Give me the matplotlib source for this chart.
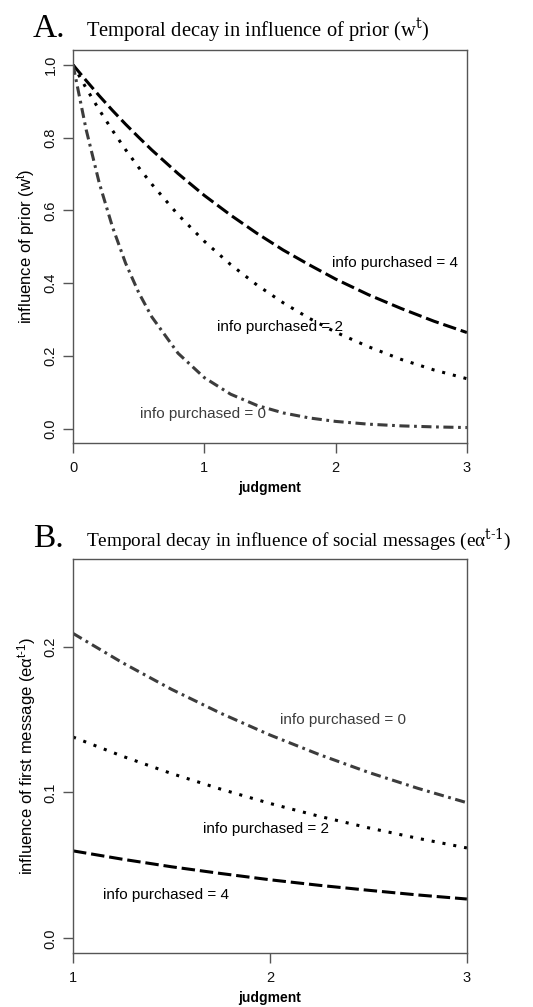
import numpy as np
import matplotlib
matplotlib.use("Agg")
import matplotlib.pyplot as plt

plt.rcParams['font.family'] = ['Liberation Sans', 'DejaVu Sans']
plt.rcParams['mathtext.fontset'] = 'custom'
plt.rcParams['mathtext.rm'] = 'Liberation Sans'
plt.rcParams['mathtext.it'] = 'Liberation Sans'

# ---- panel A: weight on the prior across judgments ----
judgment_a = [0, 0.1, 0.2, 0.3, 0.4, 0.5, 0.6, 0.8, 1.0, 1.2, 1.4, 1.6, 1.8,
              2.0, 2.25, 2.5, 2.75, 3.0]
prior_info4 = [1.0, 0.957, 0.915, 0.875, 0.837, 0.801, 0.766, 0.701, 0.641,
               0.587, 0.537, 0.491, 0.450, 0.411, 0.368, 0.330, 0.295, 0.264]
prior_info2 = [1.0, 0.936, 0.876, 0.820, 0.767, 0.718, 0.672, 0.588, 0.515,
               0.451, 0.395, 0.346, 0.303, 0.265, 0.225, 0.190, 0.161, 0.137]
prior_info0 = [1.0, 0.822, 0.675, 0.555, 0.455, 0.374, 0.307, 0.207, 0.140,
               0.0945, 0.0638, 0.0430, 0.0291, 0.0196, 0.0120, 0.0073, 0.0045,
               0.0027]

# ---- panel B: weight on the first social message ----
judgment_b = [1.0, 1.25, 1.5, 1.75, 2.0, 2.25, 2.5, 2.75, 3.0]
msg_info0 = [0.209, 0.189, 0.1707, 0.1543, 0.1394, 0.126, 0.1138, 0.1029, 0.093]
msg_info2 = [0.138, 0.1249, 0.1130, 0.1023, 0.0925, 0.0837, 0.0758, 0.0686, 0.062]
msg_info4 = [0.060, 0.0543, 0.0491, 0.0445, 0.0402, 0.0364, 0.0330, 0.0298, 0.027]

ticks_a_x = [0, 1, 2, 3]
ticks_a_y = [0.0, 0.2, 0.4, 0.6, 0.8, 1.0]
ticks_b_x = [1, 2, 3]
ticks_b_y = [0.0, 0.1, 0.2]

LW = 2.2
DARK = '#3c3c3c'
AXIS = '#555555'
long_dash = (0, (4.4, 1.6))
dotted = (0, (1.0, 2.6))
dash_dot = (0, (3.3, 1.5, 0.9, 1.5))

fig = plt.figure(figsize=(5.33, 10.07), dpi=100)
ax_a = fig.add_axes([0.137, 0.560, 0.739, 0.390])
ax_b = fig.add_axes([0.137, 0.0536, 0.739, 0.3913])


def style_axes(ax, xticks, yticks, xfmt, yfmt):
    for sp in ax.spines.values():
        sp.set_color(AXIS)
        sp.set_linewidth(1.0)
    ax.set_xticks(xticks)
    ax.set_xticklabels([xfmt.format(v) for v in xticks])
    ax.set_yticks(yticks)
    ax.set_yticklabels([yfmt.format(v) for v in yticks], rotation=90,
                       va='center')
    ax.tick_params(direction='out', length=7, width=1.0, color=AXIS,
                   labelsize=10.5, labelcolor='#111111')
    ax.tick_params(axis='x', pad=6)
    ax.tick_params(axis='y', pad=4)
    ax.set_xlabel('judgment', fontsize=10, fontweight='bold', labelpad=4)


# panel A
ax_a.plot(judgment_a, prior_info4, color='black', lw=LW, linestyle=long_dash)
ax_a.plot(judgment_a, prior_info2, color='black', lw=LW, linestyle=dotted)
ax_a.plot(judgment_a, prior_info0, color=DARK, lw=LW, linestyle=dash_dot)
ax_a.set_xlim(0, 3)
ax_a.set_ylim(-0.04, 1.04)
style_axes(ax_a, ticks_a_x, ticks_a_y, '{:d}', '{:.1f}')
ax_a.set_ylabel('influence of prior (w$^{t}$)', fontsize=12, labelpad=4)
ax_a.text(2.45, 0.455, 'info purchased = 4', fontsize=11, ha='center',
          va='center', color='black')
ax_a.text(1.58, 0.28, 'info purchased = 2', fontsize=11, ha='center',
          va='center', color='black')
ax_a.text(0.99, 0.04, 'info purchased = 0', fontsize=11, ha='center',
          va='center', color=DARK)

# panel B
ax_b.plot(judgment_b, msg_info0, color=DARK, lw=LW, linestyle=dash_dot)
ax_b.plot(judgment_b, msg_info2, color='black', lw=LW, linestyle=dotted)
ax_b.plot(judgment_b, msg_info4, color='black', lw=LW, linestyle=long_dash)
ax_b.set_xlim(1, 3)
ax_b.set_ylim(-0.01, 0.26)
style_axes(ax_b, ticks_b_x, ticks_b_y, '{:d}', '{:.1f}')
ax_b.set_ylabel('influence of first message (e\u03b1$^{t\u2010 1}$)',
                fontsize=12, labelpad=4)
ax_b.text(2.37, 0.150, 'info purchased = 0', fontsize=11, ha='center',
          va='center', color=DARK)
ax_b.text(1.98, 0.075, 'info purchased = 2', fontsize=11, ha='center',
          va='center', color='black')
ax_b.text(1.47, 0.030, 'info purchased = 4', fontsize=11, ha='center',
          va='center', color='black')

# panel headings in serif type
serif = ['Liberation Serif', 'DejaVu Serif']
fig.text(33 / 533, 1 - 29 / 1007, 'A.', fontsize=24, family=serif,
         va='center', ha='left')
fig.text(86 / 533, 1 - 30 / 1007,
         'Temporal decay in influence of prior (w$^{\\mathrm{t}}$)',
         fontsize=14.8, family=serif, va='center', ha='left',
         math_fontfamily='dejavuserif')
fig.text(33 / 533, 1 - 539 / 1007, 'B.', fontsize=24, family=serif,
         va='center', ha='left')
fig.text(86 / 533, 1 - 540 / 1007,
         'Temporal decay in influence of social messages '
         '(e\u03b1$^{\\mathrm{t}\\text{-}\\mathrm{1}}$)',
         fontsize=13.9, family=serif, va='center', ha='left',
         math_fontfamily='dejavuserif')

fig.savefig('out.png', dpi=100)
